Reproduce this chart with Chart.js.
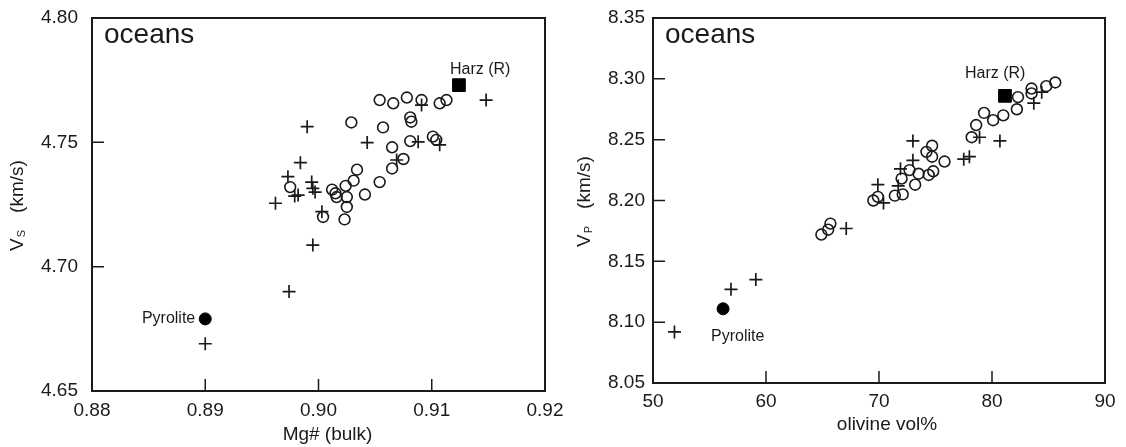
<!DOCTYPE html>
<html>
<head>
<meta charset="utf-8">
<script src="https://cdn.jsdelivr.net/npm/chart.js@4.4.0/dist/chart.umd.min.js"></script>
<style>
  html, body { margin: 0; padding: 0; background: #fff; }
  body { width: 1126px; height: 447px; position: relative; overflow: hidden; }
  canvas { position: absolute; top: 0; }
  #left { left: 0; }
  #right { left: 575px; }
</style>
</head>
<body>
<canvas id="left" width="575" height="447"></canvas>
<canvas id="right" width="551" height="447"></canvas>
<script>
// ---- left panel: Vs against Mg# (bulk) ----
const mgTicks = [0.88, 0.89, 0.90, 0.91, 0.92];
const vsTicks = [4.65, 4.70, 4.75, 4.80];
const vsCircles = [
  [0.8975, 4.732], [0.9004, 4.720], [0.9012, 4.731], [0.9015, 4.7295], [0.9016, 4.728],
  [0.9024, 4.7325], [0.9025, 4.728], [0.9025, 4.724], [0.9023, 4.719], [0.9031, 4.7346],
  [0.9034, 4.739], [0.9041, 4.729], [0.9029, 4.758], [0.9054, 4.734], [0.9065, 4.7395],
  [0.9075, 4.7433], [0.9065, 4.748], [0.9057, 4.756], [0.9081, 4.7505], [0.9081, 4.760],
  [0.9082, 4.7583], [0.9101, 4.7523], [0.9104, 4.751], [0.9054, 4.767], [0.9066, 4.7657],
  [0.9078, 4.768], [0.9091, 4.767], [0.9107, 4.7657], [0.9113, 4.767]
];
const vsCrosses = [
  [0.8900, 4.669], [0.8974, 4.690], [0.8995, 4.7087], [0.8990, 4.7563], [0.8984, 4.7418],
  [0.8973, 4.7362], [0.8994, 4.734], [0.8995, 4.7315], [0.8962, 4.7255], [0.8979, 4.7284],
  [0.8982, 4.7288], [0.8997, 4.730], [0.9003, 4.7221], [0.9043, 4.7499], [0.9069, 4.7429],
  [0.9088, 4.7502], [0.9107, 4.749], [0.9091, 4.765], [0.9148, 4.767]
];
const vsPyrolite = [[0.8900, 4.679]];
const vsHarz = [[0.9124, 4.773]];

// ---- right panel: Vp against olivine vol% ----
const olTicks = [50, 60, 70, 80, 90];
const vpTicks = [8.05, 8.10, 8.15, 8.20, 8.25, 8.30, 8.35];
const vpCircles = [
  [85.6, 8.297], [84.8, 8.294], [83.5, 8.292], [83.5, 8.288], [82.3, 8.285],
  [82.2, 8.275], [81.0, 8.270], [80.1, 8.266], [79.3, 8.272], [78.6, 8.262],
  [78.2, 8.252], [74.7, 8.245], [74.2, 8.240], [74.7, 8.236], [75.8, 8.232],
  [72.7, 8.225], [73.5, 8.222], [74.4, 8.221], [74.8, 8.224], [72.0, 8.218],
  [73.2, 8.213], [69.5, 8.200], [69.9, 8.203], [71.4, 8.204], [72.1, 8.205],
  [64.9, 8.172], [65.5, 8.176], [65.7, 8.181]
];
const vpCrosses = [
  [51.9, 8.092], [56.9, 8.127], [59.1, 8.135], [67.1, 8.177], [69.9, 8.213],
  [70.4, 8.198], [71.7, 8.212], [71.9, 8.226], [73.0, 8.233], [73.0, 8.249],
  [77.5, 8.234], [78.0, 8.236], [78.9, 8.252], [80.7, 8.249], [83.7, 8.280],
  [84.4, 8.289]
];
const vpPyrolite = [[56.2, 8.111]];
const vpHarz = [[81.15, 8.286]];

const FONT = "'Liberation Sans', Arial, sans-serif";
const INK = '#1a1a1a';

const toXY = arr => arr.map(([x, y]) => ({ x, y }));

// frame, inward ticks, axis titles and point labels
const panelDecor = {
  id: 'panelDecor',
  afterDraw(chart, args, o) {
    const { ctx, chartArea: a, scales: { x, y } } = chart;
    ctx.save();
    ctx.strokeStyle = INK;
    ctx.fillStyle = INK;
    ctx.lineWidth = 2;
    ctx.strokeRect(a.left, a.top, a.right - a.left, a.bottom - a.top);

    // inward tick marks
    ctx.lineWidth = 1.5;
    ctx.beginPath();
    o.xTicks.slice(1, -1).forEach(v => {
      const px = x.getPixelForValue(v);
      ctx.moveTo(px, a.bottom);
      ctx.lineTo(px, a.bottom - 12);
    });
    o.yTicks.slice(1, -1).forEach(v => {
      const py = y.getPixelForValue(v);
      ctx.moveTo(a.left, py);
      ctx.lineTo(a.left + 12, py);
    });
    ctx.stroke();

    // panel caption
    ctx.font = '28px ' + FONT;
    ctx.textAlign = 'left';
    ctx.textBaseline = 'alphabetic';
    ctx.fillText('oceans', a.left + 12, a.top + 25);

    // point labels
    ctx.font = '16px ' + FONT;
    const hx = x.getPixelForValue(o.harz[0][0]);
    const hy = y.getPixelForValue(o.harz[0][1]);
    ctx.textAlign = 'left';
    ctx.fillText('Harz (R)', hx + o.harzDx, hy + o.harzDy);
    const px = x.getPixelForValue(o.pyro[0][0]);
    const py = y.getPixelForValue(o.pyro[0][1]);
    ctx.textAlign = o.pyroAlign;
    ctx.fillText('Pyrolite', px + o.pyroDx, py + o.pyroDy);

    // x title
    ctx.font = '19px ' + FONT;
    ctx.textAlign = 'center';
    ctx.fillText(o.xTitle, (a.left + a.right) / 2 + o.xTitleDx, a.bottom + o.xTitleDy);

    // y title with subscript
    ctx.translate(a.left - o.yTitleGap, (a.top + a.bottom) / 2 + 1);
    ctx.rotate(-Math.PI / 2);
    ctx.textAlign = 'left';
    ctx.font = '19px ' + FONT;
    const wV = ctx.measureText('V').width;
    const wU = ctx.measureText('(km/s)').width;
    ctx.font = '11px ' + FONT;
    const wS = ctx.measureText(o.ySub).width;
    const gap = 17;
    let cx = -(wV + 1 + wS + gap + wU) / 2;
    ctx.font = '19px ' + FONT;
    ctx.fillText('V', cx, 0);
    cx += wV + 1;
    ctx.font = '11px ' + FONT;
    ctx.fillText(o.ySub, cx, 2);
    cx += wS + gap;
    ctx.font = '19px ' + FONT;
    ctx.fillText('(km/s)', cx, 0);
    ctx.restore();
  }
};

function datasets(circles, crosses, pyro, harz) {
  return [
    { data: toXY(circles), pointStyle: 'circle', pointRadius: 5.4, borderWidth: 1.6,
      borderColor: INK, backgroundColor: 'rgba(0,0,0,0)' },
    { data: toXY(crosses), pointStyle: 'cross', pointRadius: 6.5, borderWidth: 1.7,
      borderColor: INK, backgroundColor: INK },
    { data: toXY(pyro), pointStyle: 'circle', pointRadius: 6, borderWidth: 1,
      borderColor: '#000', backgroundColor: '#000' },
    { data: toXY(harz), pointStyle: 'rect', pointRadius: 9, borderWidth: 1,
      borderColor: '#000', backgroundColor: '#000' }
  ];
}

function axis(ticks, digits, padding, size, isY) {
  return {
    type: 'linear',
    min: ticks[0],
    max: ticks[ticks.length - 1],
    afterBuildTicks: s => { s.ticks = ticks.map(v => ({ value: v })); },
    afterFit: s => {
      // fixed box sizes, no extra edge padding from the end labels
      if (isY) { s.width = size; s.paddingTop = 0; s.paddingBottom = 0; }
      else { s.height = size; s.paddingLeft = 0; s.paddingRight = 0; }
    },
    grid: { display: false, drawTicks: false },
    border: { display: false },
    ticks: {
      autoSkip: false, maxRotation: 0, padding: padding, color: INK,
      font: { family: FONT, size: 19 },
      callback: v => Number(v).toFixed(digits)
    }
  };
}

function makeChart(id, cfg) {
  return new Chart(document.getElementById(id), {
    type: 'scatter',
    data: { datasets: datasets(cfg.circles, cfg.crosses, cfg.pyro, cfg.harz) },
    options: {
      responsive: false,
      animation: false,
      layout: { padding: { top: 18, right: cfg.padRight, left: 0, bottom: 0 } },
      plugins: {
        legend: { display: false },
        tooltip: { enabled: false },
        panelDecor: cfg.decor
      },
      scales: {
        x: axis(cfg.xTicks, cfg.xDigits, cfg.xPad, cfg.xHeight, false),
        y: axis(cfg.yTicks, 2, cfg.yPad, cfg.yWidth, true)
      }
    },
    plugins: [panelDecor]
  });
}

makeChart('left', {
  circles: vsCircles, crosses: vsCrosses, pyro: vsPyrolite, harz: vsHarz,
  xTicks: mgTicks, yTicks: vsTicks, xDigits: 2,
  xPad: 8, yPad: 14, xHeight: 56, yWidth: 92, padRight: 30,
  decor: {
    xTicks: mgTicks, yTicks: vsTicks, harz: vsHarz, pyro: vsPyrolite,
    harzDx: -9, harzDy: -11, pyroAlign: 'right', pyroDx: -10, pyroDy: 4,
    xTitle: 'Mg# (bulk)', xTitleDx: 9, xTitleDy: 49, yTitleGap: 69, ySub: 'S'
  }
});

makeChart('right', {
  circles: vpCircles, crosses: vpCrosses, pyro: vpPyrolite, harz: vpHarz,
  xTicks: olTicks, yTicks: vpTicks, xDigits: 0,
  xPad: 7, yPad: 8, xHeight: 64, yWidth: 78, padRight: 21,
  decor: {
    xTicks: olTicks, yTicks: vpTicks, harz: vpHarz, pyro: vpPyrolite,
    harzDx: -40, harzDy: -18, pyroAlign: 'left', pyroDx: -12, pyroDy: 32,
    xTitle: 'olivine vol%', xTitleDx: 8, xTitleDy: 47, yTitleGap: 63, ySub: 'P'
  }
});
</script>
</body>
</html>
